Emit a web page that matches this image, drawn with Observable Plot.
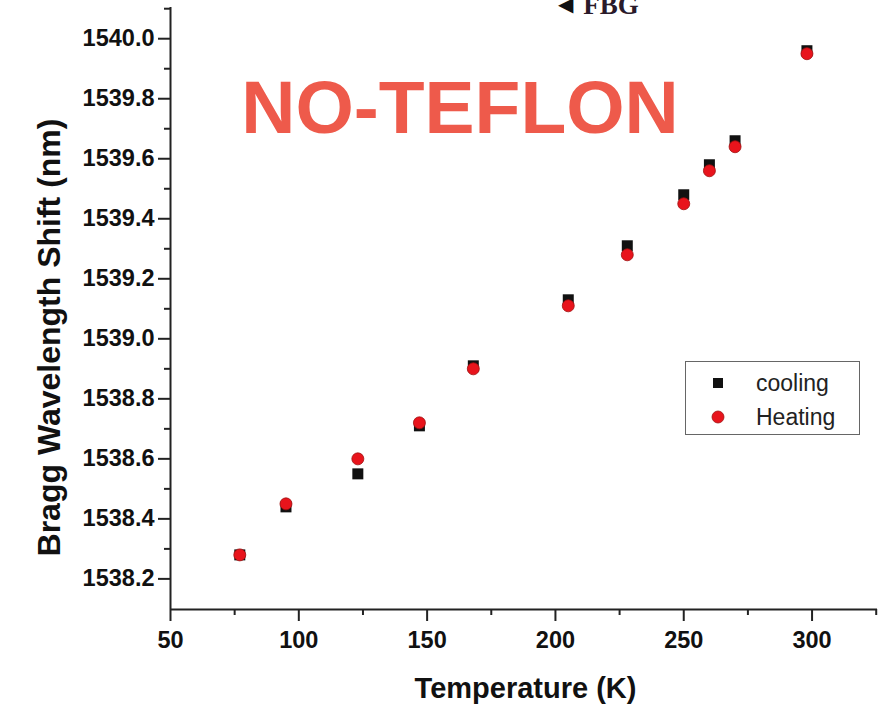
<!DOCTYPE html>
<html>
<head>
<meta charset="utf-8">
<script src="https://cdn.jsdelivr.net/npm/d3@7"></script>
<script src="https://cdn.jsdelivr.net/npm/@observablehq/plot@0.6"></script>
<style>
  html, body { margin: 0; padding: 0; background: #fff; }
  #wrap { position: relative; width: 892px; height: 708px; overflow: hidden; }
  #wrap svg { font-family: "Liberation Sans", Arial, sans-serif; }
  #legend {
    position: absolute; left: 685px; top: 361px; width: 173px; height: 72px;
    border: 1.5px solid #666; background: #fff; box-sizing: content-box;
    font-family: "Liberation Sans", Arial, sans-serif; font-size: 23px; color: #222;
  }
  #legend .row { position: absolute; left: 0; height: 30px; display: flex; align-items: center; }
  #legend svg { margin-left: 22px; margin-right: 28px; }
</style>
</head>
<body>
<div id="wrap"></div>
<script>
// ---- data ----
const temperature = [77, 95, 123, 147, 168, 205, 228, 250, 260, 270, 298];
const cooling = [1538.28, 1538.44, 1538.55, 1538.71, 1538.91, 1539.13, 1539.31, 1539.48, 1539.58, 1539.66, 1539.96];
const heating = [1538.28, 1538.45, 1538.60, 1538.72, 1538.90, 1539.11, 1539.28, 1539.45, 1539.56, 1539.64, 1539.95];
const seriesNames = ["cooling", "Heating"];
const xTicks = [50, 100, 150, 200, 250, 300];
const xMinorTicks = [75, 125, 175, 225, 275, 325];
const yTicks = [1538.2, 1538.4, 1538.6, 1538.8, 1539.0, 1539.2, 1539.4, 1539.6, 1539.8, 1540.0];
const yMinorTicks = [1538.3, 1538.5, 1538.7, 1538.9, 1539.1, 1539.3, 1539.5, 1539.7, 1539.9, 1540.1];
const xDomain = [50, 325.5];
const yDomain = [1538.098, 1540.104];
const xTitle = "Temperature (K)";
const yTitle = "Bragg Wavelength Shift (nm)";
const bigLabel = [{text: "NO-TEFLON", x: 162.8, y: 1539.685}];
const fbgNote = [{text: "FBG", x: 210.8, y: 1540.083}];
const fbgArrow = [{text: "◀", x: 201.0, y: 1540.092}];

const coolingData = temperature.map((t, i) => ({t, v: cooling[i]}));
const heatingData = temperature.map((t, i) => ({t, v: heating[i]}));

const black = "#111";
const red = "#e8141c";

const chart = Plot.plot({
  width: 892,
  height: 708,
  marginLeft: 170,
  marginRight: 15,
  marginTop: 7,
  marginBottom: 99,
  x: {domain: xDomain},
  y: {domain: yDomain},
  marks: [
    Plot.axisX(xTicks, {anchor: "bottom", tickSize: 12, tickPadding: 10, strokeWidth: 2, stroke: "#222",
      fontSize: 23.5, fontWeight: "bold", fill: "#111", label: null, tickFormat: d3.format("d")}),
    Plot.axisX(xMinorTicks, {anchor: "bottom", tickSize: 6, strokeWidth: 2, stroke: "#222", label: null, tickFormat: () => ""}),
    Plot.axisY(yTicks, {anchor: "left", tickSize: 12, tickPadding: 4, strokeWidth: 2, stroke: "#222",
      fontSize: 23.5, fontWeight: "bold", fill: "#111", label: null, tickFormat: d3.format(".1f")}),
    Plot.axisY(yMinorTicks, {anchor: "left", tickSize: 6, strokeWidth: 2, stroke: "#222", label: null, tickFormat: () => ""}),
    Plot.ruleX([xDomain[0]], {stroke: "#222", strokeWidth: 2}),
    Plot.ruleY([yDomain[0]], {stroke: "#222", strokeWidth: 2}),
    Plot.text([xTitle], {frameAnchor: "bottom", dy: 88, dx: 1.5, textAnchor: "middle", lineAnchor: "bottom", fontSize: 29, fontWeight: "bold", fill: "#111"}),
    Plot.text([yTitle], {frameAnchor: "left", dx: -111, dy: 29, rotate: -90, textAnchor: "middle", lineAnchor: "bottom", fontSize: 32, fontWeight: "bold", fill: "#111"}),
    Plot.text(bigLabel, {x: "x", y: "y", text: "text", textAnchor: "middle", lineAnchor: "bottom", fontSize: 75, fontWeight: "bold", fill: "#ee5a4b"}),
    Plot.text(fbgNote, {x: "x", y: "y", text: "text", textAnchor: "start", lineAnchor: "bottom", fontSize: 27, fontWeight: "bold", fontFamily: "Liberation Serif, serif", fill: "#2a1a2a"}),
    Plot.text(fbgArrow, {x: "x", y: "y", text: "text", textAnchor: "start", lineAnchor: "bottom", fontSize: 20, fontFamily: "DejaVu Sans", fill: "#111"}),
    Plot.dot(coolingData, {x: "t", y: "v", symbol: "square", r: 6.2, fill: black, stroke: "none"}),
    Plot.dot(heatingData, {x: "t", y: "v", symbol: "circle", r: 6, fill: red, stroke: "#a01010", strokeWidth: 0.8})
  ]
});

const wrap = document.getElementById("wrap");
wrap.appendChild(chart);

// legend
const legend = document.createElement("div");
legend.id = "legend";
const legendStyles = [
  {name: seriesNames[0], symbol: d3.symbolSquare, fill: black, stroke: "none"},
  {name: seriesNames[1], symbol: d3.symbolCircle, fill: red, stroke: "#a01010"}
];
legendStyles.forEach((s, i) => {
  const row = document.createElement("div");
  row.className = "row";
  row.style.top = (6 + i * 34) + "px";
  const sw = d3.create("svg").attr("width", 20).attr("height", 20);
  sw.append("path")
    .attr("transform", "translate(10,10)")
    .attr("d", d3.symbol(s.symbol, s.symbol === d3.symbolSquare ? 100 : 113)())
    .attr("fill", s.fill).attr("stroke", s.stroke).attr("stroke-width", 0.8);
  row.appendChild(sw.node());
  const label = document.createElement("span");
  label.textContent = s.name;
  row.appendChild(label);
  legend.appendChild(row);
});
wrap.appendChild(legend);
</script>
</body>
</html>
